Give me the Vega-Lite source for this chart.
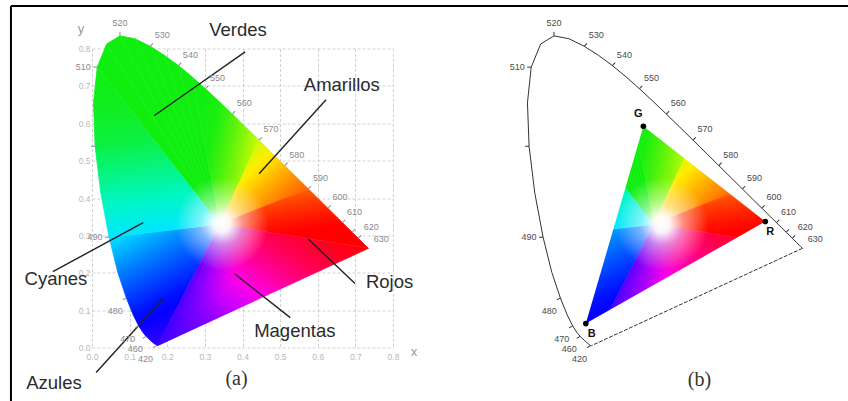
{
"$schema":"https://vega.github.io/schema/vega-lite/v6.json",
"padding":{"left":9,"top":4.5,"right":0,"bottom":0},
"background":"white",
"spacing":133,
"bounds":"flush",
"config":{"view":{"stroke":null},"text":{"font":"Liberation Sans"},"axis":{"labelFont":"Liberation Sans"}},
"datasets":{
"wedges":[
{"w":14,"o":0,"x":0.34,"y":0.33,"a":124.9},{"w":14,"o":1,"x":0.0139,"y":0.7502,"a":124.9},{"w":14,"o":2,"x":0.0389,"y":0.812,"a":124.9},
{"w":15,"o":0,"x":0.34,"y":0.33,"a":119.9},{"w":15,"o":1,"x":0.0389,"y":0.812,"a":119.9},{"w":15,"o":2,"x":0.0743,"y":0.8338,"a":119.9},
{"w":16,"o":0,"x":0.34,"y":0.33,"a":116.2},{"w":16,"o":1,"x":0.0743,"y":0.8338,"a":116.2},{"w":16,"o":2,"x":0.1142,"y":0.8262,"a":116.2},
{"w":17,"o":0,"x":0.34,"y":0.33,"a":112.9},{"w":17,"o":1,"x":0.1142,"y":0.8262,"a":112.9},{"w":17,"o":2,"x":0.1547,"y":0.8059,"a":112.9},
{"w":18,"o":0,"x":0.34,"y":0.33,"a":109.7},{"w":18,"o":1,"x":0.1547,"y":0.8059,"a":109.7},{"w":18,"o":2,"x":0.1929,"y":0.7816,"a":109.7},
{"w":19,"o":0,"x":0.34,"y":0.33,"a":106.3},{"w":19,"o":1,"x":0.1929,"y":0.7816,"a":106.3},{"w":19,"o":2,"x":0.2296,"y":0.7543,"a":106.3},
{"w":20,"o":0,"x":0.34,"y":0.33,"a":102.7},{"w":20,"o":1,"x":0.2296,"y":0.7543,"a":102.7},{"w":20,"o":2,"x":0.2658,"y":0.7243,"a":102.7}
],
"sect":[
{"s":"S12","o":0,"x":0.34,"y":0.33},{"s":"S12","o":1,"x":0.1741,"y":0.005},{"s":"S12","o":2,"x":0.1644,"y":0.0109},{"s":"S12","o":3,"x":0.1566,"y":0.0177},{"s":"S12","o":4,"x":0.144,"y":0.0297},{"s":"S12","o":5,"x":0.1355,"y":0.0399},{"s":"S12","o":6,"x":0.1241,"y":0.0578},{"s":"S12","o":7,"x":0.1096,"y":0.0868},{"s":"S12","o":8,"x":0.0913,"y":0.1327},{"s":"S12","o":9,"x":0.0687,"y":0.2007},{"s":"S12","o":10,"x":0.0454,"y":0.295},
{"s":"S3","o":0,"x":0.34,"y":0.33},{"s":"S3","o":1,"x":0.0454,"y":0.295},{"s":"S3","o":2,"x":0.0235,"y":0.4127},{"s":"S3","o":3,"x":0.0082,"y":0.5384},{"s":"S3","o":4,"x":0.0039,"y":0.6548},{"s":"S3","o":5,"x":0.0139,"y":0.7502},
{"s":"S5","o":0,"x":0.34,"y":0.33},{"s":"S5","o":1,"x":0.2658,"y":0.7243},{"s":"S5","o":2,"x":0.3016,"y":0.6923},{"s":"S5","o":3,"x":0.3373,"y":0.6589},{"s":"S5","o":4,"x":0.3731,"y":0.6245},{"s":"S5","o":5,"x":0.4087,"y":0.5896},{"s":"S5","o":6,"x":0.4441,"y":0.5547},
{"s":"S6","o":0,"x":0.34,"y":0.33},{"s":"S6","o":1,"x":0.4441,"y":0.5547},{"s":"S6","o":2,"x":0.4788,"y":0.5202},{"s":"S6","o":3,"x":0.5125,"y":0.4866},{"s":"S6","o":4,"x":0.5448,"y":0.4544},{"s":"S6","o":5,"x":0.5752,"y":0.4242},
{"s":"S7","o":0,"x":0.34,"y":0.33},{"s":"S7","o":1,"x":0.5752,"y":0.4242},{"s":"S7","o":2,"x":0.6029,"y":0.3965},{"s":"S7","o":3,"x":0.627,"y":0.3725},{"s":"S7","o":4,"x":0.6482,"y":0.3514},{"s":"S7","o":5,"x":0.6658,"y":0.334},{"s":"S7","o":6,"x":0.6801,"y":0.3197},{"s":"S7","o":7,"x":0.6915,"y":0.3083},{"s":"S7","o":8,"x":0.7079,"y":0.292},{"s":"S7","o":9,"x":0.719,"y":0.2809},{"s":"S7","o":10,"x":0.726,"y":0.274},{"s":"S7","o":11,"x":0.73,"y":0.27},{"s":"S7","o":12,"x":0.7334,"y":0.2666},{"s":"S7","o":13,"x":0.7347,"y":0.2653},
{"s":"P","o":0,"x":0.34,"y":0.33},{"s":"P","o":1,"x":0.7347,"y":0.2653},{"s":"P","o":2,"x":0.1741,"y":0.005}
],
"locus":[
{"wl":380,"x":0.1741,"y":0.005},{"wl":420,"x":0.1714,"y":0.0051},{"wl":440,"x":0.1644,"y":0.0109},{"wl":450,"x":0.1566,"y":0.0177},
{"wl":460,"x":0.144,"y":0.0297},{"wl":465,"x":0.1355,"y":0.0399},{"wl":470,"x":0.1241,"y":0.0578},{"wl":475,"x":0.1096,"y":0.0868},
{"wl":480,"x":0.0913,"y":0.1327},{"wl":485,"x":0.0687,"y":0.2007},{"wl":490,"x":0.0454,"y":0.295},{"wl":495,"x":0.0235,"y":0.4127},
{"wl":500,"x":0.0082,"y":0.5384},{"wl":505,"x":0.0039,"y":0.6548},{"wl":510,"x":0.0139,"y":0.7502},{"wl":515,"x":0.0389,"y":0.812},
{"wl":520,"x":0.0743,"y":0.8338},{"wl":525,"x":0.1142,"y":0.8262},{"wl":530,"x":0.1547,"y":0.8059},{"wl":535,"x":0.1929,"y":0.7816},
{"wl":540,"x":0.2296,"y":0.7543},{"wl":545,"x":0.2658,"y":0.7243},{"wl":550,"x":0.3016,"y":0.6923},{"wl":555,"x":0.3373,"y":0.6589},
{"wl":560,"x":0.3731,"y":0.6245},{"wl":565,"x":0.4087,"y":0.5896},{"wl":570,"x":0.4441,"y":0.5547},{"wl":575,"x":0.4788,"y":0.5202},
{"wl":580,"x":0.5125,"y":0.4866},{"wl":585,"x":0.5448,"y":0.4544},{"wl":590,"x":0.5752,"y":0.4242},{"wl":595,"x":0.6029,"y":0.3965},
{"wl":600,"x":0.627,"y":0.3725},{"wl":605,"x":0.6482,"y":0.3514},{"wl":610,"x":0.6658,"y":0.334},{"wl":615,"x":0.6801,"y":0.3197},
{"wl":620,"x":0.6915,"y":0.3083},{"wl":630,"x":0.7079,"y":0.292},{"wl":640,"x":0.719,"y":0.2809},{"wl":650,"x":0.726,"y":0.274},
{"wl":660,"x":0.73,"y":0.27},{"wl":680,"x":0.7334,"y":0.2666},{"wl":700,"x":0.7347,"y":0.2653}
],
"nl":[
{"x":0.165,"y":0.62,"x2":0.407,"y2":0.791},
{"x":0.444,"y":0.465,"x2":0.622,"y2":0.663},
{"x":-0.104,"y":0.203,"x2":0.136,"y2":0.334},
{"x":0.011,"y":-0.067,"x2":0.189,"y2":0.131},
{"x":0.574,"y":0.291,"x2":0.699,"y2":0.171},
{"x":0.378,"y":0.198,"x2":0.527,"y2":0.08}
],
"notes":[
{"t":"Verdes","x":0.388,"y":0.85},
{"t":"Amarillos","x":0.664,"y":0.702},
{"t":"Cyanes","x":-0.096,"y":0.183},
{"t":"Azules","x":-0.101,"y":-0.094},
{"t":"Rojos","x":0.791,"y":0.176},
{"t":"Magentas","x":0.539,"y":0.045}
],
"frame":[
{"x":-0.2154,"y":-0.17,"x2":-0.2154,"y2":0.9137},
{"x":-0.2154,"y":0.9137,"x2":2.012,"y2":0.9137}
],
"mask":[
{"o":0,"x":-0.03,"y":-0.03},{"o":1,"x":0.78,"y":-0.03},{"o":2,"x":0.78,"y":0.86},{"o":3,"x":-0.03,"y":0.86},{"o":4,"x":-0.03,"y":-0.03},
{"o":5,"x":0.159,"y":0.064},{"o":6,"x":0.312,"y":0.592},{"o":7,"x":0.636,"y":0.337},{"o":8,"x":0.159,"y":0.064}
],
"prim":[{"n":"R","x":0.636,"y":0.337},{"n":"G","x":0.312,"y":0.592},{"n":"B","x":0.159,"y":0.064}]
},
"hconcat":[
{
"width":301,"height":299,
"encoding":{
"x":{"field":"x","type":"quantitative","scale":{"domain":[0,0.8],"nice":false,"zero":false},"axis":{"values":[0,0.1,0.2,0.3,0.4,0.5,0.6,0.7,0.8],"format":".1f","title":null,"domain":false,"ticks":false,"tickSize":0,"labelPadding":5,"labelFontSize":8.5,"labelColor":"#b8b8b8","labelFlush":false,"grid":true,"gridDash":[3,2],"gridColor":"#c6c6c6","gridWidth":0.8}},
"y":{"field":"y","type":"quantitative","scale":{"domain":[0,0.8],"nice":false,"zero":false},"axis":{"values":[0,0.1,0.2,0.3,0.4,0.5,0.6,0.7,0.8],"format":".1f","title":null,"domain":false,"ticks":false,"tickSize":0,"labelPadding":2,"labelFontSize":8.5,"labelColor":"#b8b8b8","labelFlush":false,"grid":true,"gridDash":[3,2],"gridColor":"#c6c6c6","gridWidth":0.8}}
},
"layer":[
{"data":{"name":"wedges"},"mark":{"type":"line","filled":true,"strokeWidth":0.8},
 "encoding":{"detail":{"field":"w"},"order":{"field":"o","type":"quantitative"},
 "color":{"field":"a","type":"quantitative","legend":null,"scale":{"domain":[0,58,92,125,182,230,295,352,360],"range":["#ff0000","#ffff00","#10ee10","#10ee10","#00ffff","#0000ff","#ff00ff","#ff0000","#ff0000"],"interpolate":"rgb"}},
 "stroke":{"field":"a","type":"quantitative","legend":null,"scale":{"domain":[0,58,92,125,182,230,295,352,360],"range":["#ff0000","#ffff00","#10ee10","#10ee10","#00ffff","#0000ff","#ff00ff","#ff0000","#ff0000"],"interpolate":"rgb"}}}},
{"data":{"name":"sect"},"transform":[{"filter":{"field":"s","equal":"S12"}}],"mark":{"type":"line","filled":true,"strokeWidth":0.8,
 "fill":{"gradient":"linear","x1":0.4369,"y1":1,"x2":0,"y2":0.1077,"stops":[{"offset":0,"color":"#3300ff"},{"offset":0.114,"color":"#1b00ff"},{"offset":0.222,"color":"#0600ff"},{"offset":0.325,"color":"#0012ff"},{"offset":0.48,"color":"#003eff"},{"offset":0.703,"color":"#0082ff"},{"offset":1,"color":"#00e6ff"}]},
 "stroke":{"gradient":"linear","x1":0.4369,"y1":1,"x2":0,"y2":0.1077,"stops":[{"offset":0,"color":"#3300ff"},{"offset":0.114,"color":"#1b00ff"},{"offset":0.222,"color":"#0600ff"},{"offset":0.325,"color":"#0012ff"},{"offset":0.48,"color":"#003eff"},{"offset":0.703,"color":"#0082ff"},{"offset":1,"color":"#00e6ff"}]}},
 "encoding":{"order":{"field":"o","type":"quantitative"}}},
{"data":{"name":"sect"},"transform":[{"filter":{"field":"s","equal":"S3"}}],"mark":{"type":"line","filled":true,"strokeWidth":0.8,
 "fill":{"gradient":"linear","x1":0.1235,"y1":1,"x2":0.0298,"y2":0,"stops":[{"offset":0,"color":"#00e6ff"},{"offset":0.18,"color":"#00f6c8"},{"offset":0.35,"color":"#05f588"},{"offset":0.55,"color":"#0cf040"},{"offset":0.75,"color":"#10ee20"},{"offset":1,"color":"#10ee10"}]},
 "stroke":{"gradient":"linear","x1":0.1235,"y1":1,"x2":0.0298,"y2":0,"stops":[{"offset":0,"color":"#00e6ff"},{"offset":0.18,"color":"#00f6c8"},{"offset":0.35,"color":"#05f588"},{"offset":0.55,"color":"#0cf040"},{"offset":0.75,"color":"#10ee20"},{"offset":1,"color":"#10ee10"}]}},
 "encoding":{"order":{"field":"o","type":"quantitative"}}},
{"data":{"name":"sect"},"transform":[{"filter":{"field":"s","equal":"S5"}}],"mark":{"type":"line","filled":true,"strokeWidth":0.8,
 "fill":{"gradient":"linear","x1":0,"y1":0,"x2":1,"y2":0.4301,"stops":[{"offset":0,"color":"#10ee10"},{"offset":0.199,"color":"#10ee10"},{"offset":0.399,"color":"#1aef0f"},{"offset":0.6,"color":"#4bf20c"},{"offset":0.8,"color":"#86f608"},{"offset":1,"color":"#cdfb03"}]},
 "stroke":{"gradient":"linear","x1":0,"y1":0,"x2":1,"y2":0.4301,"stops":[{"offset":0,"color":"#10ee10"},{"offset":0.199,"color":"#10ee10"},{"offset":0.399,"color":"#1aef0f"},{"offset":0.6,"color":"#4bf20c"},{"offset":0.8,"color":"#86f608"},{"offset":1,"color":"#cdfb03"}]}},
 "encoding":{"order":{"field":"o","type":"quantitative"}}},
{"data":{"name":"sect"},"transform":[{"filter":{"field":"s","equal":"S6"}}],"mark":{"type":"line","filled":true,"strokeWidth":0.8,
 "fill":{"gradient":"linear","x1":0.4426,"y1":0,"x2":1,"y2":0.5807,"stops":[{"offset":0,"color":"#cdfb03"},{"offset":0.265,"color":"#ffed00"},{"offset":0.522,"color":"#ffb900"},{"offset":0.768,"color":"#ff8900"},{"offset":1,"color":"#ff6000"}]},
 "stroke":{"gradient":"linear","x1":0.4426,"y1":0,"x2":1,"y2":0.5807,"stops":[{"offset":0,"color":"#cdfb03"},{"offset":0.265,"color":"#ffed00"},{"offset":0.522,"color":"#ffb900"},{"offset":0.768,"color":"#ff8900"},{"offset":1,"color":"#ff6000"}]}},
 "encoding":{"order":{"field":"o","type":"quantitative"}}},
{"data":{"name":"sect"},"transform":[{"filter":{"field":"s","equal":"S7"}}],"mark":{"type":"line","filled":true,"strokeWidth":0.8,
 "fill":{"gradient":"linear","x1":0.5959,"y1":0,"x2":0.8905,"y2":0.7294,"stops":[{"offset":0,"color":"#ff6000"},{"offset":0.239,"color":"#ff3e00"},{"offset":0.446,"color":"#ff2500"},{"offset":0.628,"color":"#ff1100"},{"offset":0.778,"color":"#ff0300"},{"offset":1,"color":"#ff0000"}]},
 "stroke":{"gradient":"linear","x1":0.5959,"y1":0,"x2":0.8905,"y2":0.7294,"stops":[{"offset":0,"color":"#ff6000"},{"offset":0.239,"color":"#ff3e00"},{"offset":0.446,"color":"#ff2500"},{"offset":0.628,"color":"#ff1100"},{"offset":0.778,"color":"#ff0300"},{"offset":1,"color":"#ff0000"}]}},
 "encoding":{"order":{"field":"o","type":"quantitative"}}},
{"data":{"name":"sect"},"transform":[{"filter":{"field":"s","equal":"P"}}],"mark":{"type":"line","filled":true,"strokeWidth":0.8,
 "fill":{"gradient":"linear","x1":1,"y1":0.2,"x2":0,"y2":1,"stops":[{"offset":0,"color":"#ff0008"},{"offset":0.125,"color":"#ff0027"},{"offset":0.25,"color":"#ff0055"},{"offset":0.375,"color":"#ff0095"},{"offset":0.5,"color":"#ff00e7"},{"offset":0.625,"color":"#c800ff"},{"offset":0.75,"color":"#8700ff"},{"offset":0.875,"color":"#5600ff"},{"offset":1,"color":"#3300ff"}]},
 "stroke":{"gradient":"linear","x1":1,"y1":0.2,"x2":0,"y2":1,"stops":[{"offset":0,"color":"#ff0008"},{"offset":0.125,"color":"#ff0027"},{"offset":0.25,"color":"#ff0055"},{"offset":0.375,"color":"#ff0095"},{"offset":0.5,"color":"#ff00e7"},{"offset":0.625,"color":"#c800ff"},{"offset":0.75,"color":"#8700ff"},{"offset":0.875,"color":"#5600ff"},{"offset":1,"color":"#3300ff"}]}},
 "encoding":{"order":{"field":"o","type":"quantitative"}}},
{"data":{"name":"sect"},"transform":[{"filter":{"field":"s","equal":"P"}}],"mark":{"type":"line","filled":true,"strokeWidth":0,
 "fill":{"gradient":"linear","x1":0.2985,"y1":-0.0086,"x2":1,"y2":0.199,"stops":[{"offset":0,"color":"rgba(60,0,255,0.8)"},{"offset":0.12,"color":"rgba(100,0,255,0.42)"},{"offset":0.25,"color":"rgba(140,0,255,0)"},{"offset":1,"color":"rgba(140,0,255,0)"}]}},
 "encoding":{"order":{"field":"o","type":"quantitative"}}},
{"data":{"name":"locus"},"mark":{"type":"line","filled":true,"strokeWidth":0,
 "fill":{"gradient":"radial","x1":0.471,"y1":0.608,"r1":0,"x2":0.471,"y2":0.608,"r2":0.15,"stops":[{"offset":0,"color":"rgba(255,255,255,1)"},{"offset":0.18,"color":"rgba(255,255,255,0.95)"},{"offset":0.45,"color":"rgba(255,255,255,0.5)"},{"offset":1,"color":"rgba(255,255,255,0)"}]}},
 "encoding":{"order":{"field":"wl","type":"quantitative"}}},
{"data":{"name":"nl"},"mark":{"type":"rule","color":"#222222","strokeWidth":1.4},"encoding":{"x2":{"field":"x2"},"y2":{"field":"y2"}}},
{"data":{"name":"notes"},"mark":{"type":"text","fontSize":18.5,"color":"#2b2b2b"},"encoding":{"text":{"field":"t"}}},
{"data":{"name":"locus"},"transform":[{"filter":{"field":"wl","oneOf":[520]}}],"mark":{"type":"text","dy":-13,"fontSize":9,"color":"#8a8a8a"},"encoding":{"text":{"field":"wl","type":"quantitative"}}},
{"data":{"name":"locus"},"transform":[{"filter":{"field":"wl","oneOf":[530,540,550,560,570,580,590,600,610]}}],"mark":{"type":"text","dx":12,"dy":-11,"fontSize":9,"color":"#8a8a8a"},"encoding":{"text":{"field":"wl","type":"quantitative"}}},
{"data":{"name":"locus"},"transform":[{"filter":{"field":"wl","oneOf":[620]}}],"mark":{"type":"text","dx":19,"dy":-5,"fontSize":9,"color":"#8a8a8a"},"encoding":{"text":{"field":"wl","type":"quantitative"}}},
{"data":{"name":"locus"},"transform":[{"filter":{"field":"wl","oneOf":[630]}}],"mark":{"type":"text","dx":23,"dy":1,"fontSize":9,"color":"#8a8a8a"},"encoding":{"text":{"field":"wl","type":"quantitative"}}},
{"data":{"name":"locus"},"transform":[{"filter":{"field":"wl","oneOf":[510,490]}}],"mark":{"type":"text","dx":-14,"dy":0,"fontSize":9,"color":"#8a8a8a"},"encoding":{"text":{"field":"wl","type":"quantitative"}}},
{"data":{"name":"locus"},"transform":[{"filter":{"field":"wl","oneOf":[480,470,460,420]}}],"mark":{"type":"text","dx":-11,"dy":13,"fontSize":9,"color":"#8a8a8a"},"encoding":{"text":{"field":"wl","type":"quantitative"}}},
{"data":{"name":"locus"},"transform":[{"filter":{"field":"wl","oneOf":[520]}}],"mark":{"type":"point","shape":"M0,0L1,0","size":64,"angle":-90,"filled":false,"color":"#8a8a8a","strokeWidth":1,"opacity":1}},
{"data":{"name":"locus"},"transform":[{"filter":{"field":"wl","oneOf":[530,540,550,560,570,580,590,600,610,620,630]}}],"mark":{"type":"point","shape":"M0,0L1,0","size":64,"angle":-47,"filled":false,"color":"#8a8a8a","strokeWidth":1,"opacity":1}},
{"data":{"name":"locus"},"transform":[{"filter":{"field":"wl","oneOf":[510,500,490]}}],"mark":{"type":"point","shape":"M0,0L1,0","size":64,"angle":180,"filled":false,"color":"#8a8a8a","strokeWidth":1,"opacity":1}},
{"data":{"name":"locus"},"transform":[{"filter":{"field":"wl","oneOf":[480,470,460,420]}}],"mark":{"type":"point","shape":"M0,0L1,0","size":64,"angle":150,"filled":false,"color":"#8a8a8a","strokeWidth":1,"opacity":1}},
{"data":{"values":[{"t":"x","x":0.856,"y":-0.013},{"t":"y","x":-0.029,"y":0.853}]},"mark":{"type":"text","fontSize":13,"color":"#999999"},"encoding":{"text":{"field":"t"}}},
{"data":{"values":[{"t":"(a)","x":0.384,"y":-0.083}]},"mark":{"type":"text","font":"Liberation Serif","fontSize":20,"color":"#333333"},"encoding":{"text":{"field":"t"}}},
{"data":{"name":"frame"},"mark":{"type":"rule","color":"#000000","strokeWidth":2},"encoding":{"x2":{"field":"x2"},"y2":{"field":"y2"}}}
]
},
{
"width":301,"height":299,
"encoding":{
"x":{"field":"x","type":"quantitative","scale":{"domain":[0,0.8],"nice":false,"zero":false},"axis":null},
"y":{"field":"y","type":"quantitative","scale":{"domain":[0,0.8],"nice":false,"zero":false},"axis":null}
},
"layer":[
{"data":{"name":"wedges"},"mark":{"type":"line","filled":true,"strokeWidth":0.8},
 "encoding":{"detail":{"field":"w"},"order":{"field":"o","type":"quantitative"},
 "color":{"field":"a","type":"quantitative","legend":null,"scale":{"domain":[0,58,92,125,182,230,295,352,360],"range":["#ff0000","#ffff00","#10ee10","#10ee10","#00ffff","#0000ff","#ff00ff","#ff0000","#ff0000"],"interpolate":"rgb"}},
 "stroke":{"field":"a","type":"quantitative","legend":null,"scale":{"domain":[0,58,92,125,182,230,295,352,360],"range":["#ff0000","#ffff00","#10ee10","#10ee10","#00ffff","#0000ff","#ff00ff","#ff0000","#ff0000"],"interpolate":"rgb"}}}},
{"data":{"name":"sect"},"transform":[{"filter":{"field":"s","equal":"S12"}}],"mark":{"type":"line","filled":true,"strokeWidth":0.8,
 "fill":{"gradient":"linear","x1":0.4369,"y1":1,"x2":0,"y2":0.1077,"stops":[{"offset":0,"color":"#3300ff"},{"offset":0.114,"color":"#1b00ff"},{"offset":0.222,"color":"#0600ff"},{"offset":0.325,"color":"#0012ff"},{"offset":0.48,"color":"#003eff"},{"offset":0.703,"color":"#0082ff"},{"offset":1,"color":"#00e6ff"}]},
 "stroke":{"gradient":"linear","x1":0.4369,"y1":1,"x2":0,"y2":0.1077,"stops":[{"offset":0,"color":"#3300ff"},{"offset":0.114,"color":"#1b00ff"},{"offset":0.222,"color":"#0600ff"},{"offset":0.325,"color":"#0012ff"},{"offset":0.48,"color":"#003eff"},{"offset":0.703,"color":"#0082ff"},{"offset":1,"color":"#00e6ff"}]}},
 "encoding":{"order":{"field":"o","type":"quantitative"}}},
{"data":{"name":"sect"},"transform":[{"filter":{"field":"s","equal":"S3"}}],"mark":{"type":"line","filled":true,"strokeWidth":0.8,
 "fill":{"gradient":"linear","x1":0.1235,"y1":1,"x2":0.0298,"y2":0,"stops":[{"offset":0,"color":"#00e6ff"},{"offset":0.18,"color":"#00f6c8"},{"offset":0.35,"color":"#05f588"},{"offset":0.55,"color":"#0cf040"},{"offset":0.75,"color":"#10ee20"},{"offset":1,"color":"#10ee10"}]},
 "stroke":{"gradient":"linear","x1":0.1235,"y1":1,"x2":0.0298,"y2":0,"stops":[{"offset":0,"color":"#00e6ff"},{"offset":0.18,"color":"#00f6c8"},{"offset":0.35,"color":"#05f588"},{"offset":0.55,"color":"#0cf040"},{"offset":0.75,"color":"#10ee20"},{"offset":1,"color":"#10ee10"}]}},
 "encoding":{"order":{"field":"o","type":"quantitative"}}},
{"data":{"name":"sect"},"transform":[{"filter":{"field":"s","equal":"S5"}}],"mark":{"type":"line","filled":true,"strokeWidth":0.8,
 "fill":{"gradient":"linear","x1":0,"y1":0,"x2":1,"y2":0.4301,"stops":[{"offset":0,"color":"#10ee10"},{"offset":0.199,"color":"#10ee10"},{"offset":0.399,"color":"#1aef0f"},{"offset":0.6,"color":"#4bf20c"},{"offset":0.8,"color":"#86f608"},{"offset":1,"color":"#cdfb03"}]},
 "stroke":{"gradient":"linear","x1":0,"y1":0,"x2":1,"y2":0.4301,"stops":[{"offset":0,"color":"#10ee10"},{"offset":0.199,"color":"#10ee10"},{"offset":0.399,"color":"#1aef0f"},{"offset":0.6,"color":"#4bf20c"},{"offset":0.8,"color":"#86f608"},{"offset":1,"color":"#cdfb03"}]}},
 "encoding":{"order":{"field":"o","type":"quantitative"}}},
{"data":{"name":"sect"},"transform":[{"filter":{"field":"s","equal":"S6"}}],"mark":{"type":"line","filled":true,"strokeWidth":0.8,
 "fill":{"gradient":"linear","x1":0.4426,"y1":0,"x2":1,"y2":0.5807,"stops":[{"offset":0,"color":"#cdfb03"},{"offset":0.265,"color":"#ffed00"},{"offset":0.522,"color":"#ffb900"},{"offset":0.768,"color":"#ff8900"},{"offset":1,"color":"#ff6000"}]},
 "stroke":{"gradient":"linear","x1":0.4426,"y1":0,"x2":1,"y2":0.5807,"stops":[{"offset":0,"color":"#cdfb03"},{"offset":0.265,"color":"#ffed00"},{"offset":0.522,"color":"#ffb900"},{"offset":0.768,"color":"#ff8900"},{"offset":1,"color":"#ff6000"}]}},
 "encoding":{"order":{"field":"o","type":"quantitative"}}},
{"data":{"name":"sect"},"transform":[{"filter":{"field":"s","equal":"S7"}}],"mark":{"type":"line","filled":true,"strokeWidth":0.8,
 "fill":{"gradient":"linear","x1":0.5959,"y1":0,"x2":0.8905,"y2":0.7294,"stops":[{"offset":0,"color":"#ff6000"},{"offset":0.239,"color":"#ff3e00"},{"offset":0.446,"color":"#ff2500"},{"offset":0.628,"color":"#ff1100"},{"offset":0.778,"color":"#ff0300"},{"offset":1,"color":"#ff0000"}]},
 "stroke":{"gradient":"linear","x1":0.5959,"y1":0,"x2":0.8905,"y2":0.7294,"stops":[{"offset":0,"color":"#ff6000"},{"offset":0.239,"color":"#ff3e00"},{"offset":0.446,"color":"#ff2500"},{"offset":0.628,"color":"#ff1100"},{"offset":0.778,"color":"#ff0300"},{"offset":1,"color":"#ff0000"}]}},
 "encoding":{"order":{"field":"o","type":"quantitative"}}},
{"data":{"name":"sect"},"transform":[{"filter":{"field":"s","equal":"P"}}],"mark":{"type":"line","filled":true,"strokeWidth":0.8,
 "fill":{"gradient":"linear","x1":1,"y1":0.2,"x2":0,"y2":1,"stops":[{"offset":0,"color":"#ff0008"},{"offset":0.125,"color":"#ff0027"},{"offset":0.25,"color":"#ff0055"},{"offset":0.375,"color":"#ff0095"},{"offset":0.5,"color":"#ff00e7"},{"offset":0.625,"color":"#c800ff"},{"offset":0.75,"color":"#8700ff"},{"offset":0.875,"color":"#5600ff"},{"offset":1,"color":"#3300ff"}]},
 "stroke":{"gradient":"linear","x1":1,"y1":0.2,"x2":0,"y2":1,"stops":[{"offset":0,"color":"#ff0008"},{"offset":0.125,"color":"#ff0027"},{"offset":0.25,"color":"#ff0055"},{"offset":0.375,"color":"#ff0095"},{"offset":0.5,"color":"#ff00e7"},{"offset":0.625,"color":"#c800ff"},{"offset":0.75,"color":"#8700ff"},{"offset":0.875,"color":"#5600ff"},{"offset":1,"color":"#3300ff"}]}},
 "encoding":{"order":{"field":"o","type":"quantitative"}}},
{"data":{"name":"sect"},"transform":[{"filter":{"field":"s","equal":"P"}}],"mark":{"type":"line","filled":true,"strokeWidth":0,
 "fill":{"gradient":"linear","x1":0.2985,"y1":-0.0086,"x2":1,"y2":0.199,"stops":[{"offset":0,"color":"rgba(60,0,255,0.8)"},{"offset":0.12,"color":"rgba(100,0,255,0.42)"},{"offset":0.25,"color":"rgba(140,0,255,0)"},{"offset":1,"color":"rgba(140,0,255,0)"}]}},
 "encoding":{"order":{"field":"o","type":"quantitative"}}},
{"data":{"name":"locus"},"mark":{"type":"line","filled":true,"strokeWidth":0,
 "fill":{"gradient":"radial","x1":0.49,"y1":0.608,"r1":0,"x2":0.49,"y2":0.608,"r2":0.15,"stops":[{"offset":0,"color":"rgba(255,255,255,1)"},{"offset":0.18,"color":"rgba(255,255,255,0.95)"},{"offset":0.45,"color":"rgba(255,255,255,0.5)"},{"offset":1,"color":"rgba(255,255,255,0)"}]}},
 "encoding":{"order":{"field":"wl","type":"quantitative"}}},
{"data":{"name":"mask"},"mark":{"type":"line","filled":true,"color":"#ffffff","strokeWidth":0},"encoding":{"order":{"field":"o","type":"quantitative"}}},
{"data":{"name":"locus"},"mark":{"type":"line","color":"#333333","strokeWidth":1},"encoding":{"order":{"field":"wl","type":"quantitative"}}},
{"data":{"values":[{"x":0.7347,"y":0.2653,"x2":0.1741,"y2":0.005}]},"mark":{"type":"rule","color":"#333333","strokeWidth":1,"strokeDash":[4,1.5]},"encoding":{"x2":{"field":"x2"},"y2":{"field":"y2"}}},
{"data":{"name":"locus"},"transform":[{"filter":{"field":"wl","oneOf":[520]}}],"mark":{"type":"text","dy":-13,"fontSize":9,"color":"#4a4a4a"},"encoding":{"text":{"field":"wl","type":"quantitative"}}},
{"data":{"name":"locus"},"transform":[{"filter":{"field":"wl","oneOf":[530,540,550,560,570,580,590,600,610]}}],"mark":{"type":"text","dx":12,"dy":-11,"fontSize":9,"color":"#4a4a4a"},"encoding":{"text":{"field":"wl","type":"quantitative"}}},
{"data":{"name":"locus"},"transform":[{"filter":{"field":"wl","oneOf":[620]}}],"mark":{"type":"text","dx":19,"dy":-5,"fontSize":9,"color":"#4a4a4a"},"encoding":{"text":{"field":"wl","type":"quantitative"}}},
{"data":{"name":"locus"},"transform":[{"filter":{"field":"wl","oneOf":[630]}}],"mark":{"type":"text","dx":23,"dy":1,"fontSize":9,"color":"#4a4a4a"},"encoding":{"text":{"field":"wl","type":"quantitative"}}},
{"data":{"name":"locus"},"transform":[{"filter":{"field":"wl","oneOf":[510,490]}}],"mark":{"type":"text","dx":-14,"dy":0,"fontSize":9,"color":"#4a4a4a"},"encoding":{"text":{"field":"wl","type":"quantitative"}}},
{"data":{"name":"locus"},"transform":[{"filter":{"field":"wl","oneOf":[480,470,460,420]}}],"mark":{"type":"text","dx":-11,"dy":13,"fontSize":9,"color":"#4a4a4a"},"encoding":{"text":{"field":"wl","type":"quantitative"}}},
{"data":{"name":"locus"},"transform":[{"filter":{"field":"wl","oneOf":[520]}}],"mark":{"type":"point","shape":"M0,0L1,0","size":64,"angle":-90,"filled":false,"color":"#333333","strokeWidth":1,"opacity":1}},
{"data":{"name":"locus"},"transform":[{"filter":{"field":"wl","oneOf":[530,540,550,560,570,580,590,600,610,620,630]}}],"mark":{"type":"point","shape":"M0,0L1,0","size":64,"angle":-47,"filled":false,"color":"#333333","strokeWidth":1,"opacity":1}},
{"data":{"name":"locus"},"transform":[{"filter":{"field":"wl","oneOf":[510,500,490]}}],"mark":{"type":"point","shape":"M0,0L1,0","size":64,"angle":180,"filled":false,"color":"#333333","strokeWidth":1,"opacity":1}},
{"data":{"name":"locus"},"transform":[{"filter":{"field":"wl","oneOf":[480,470,460,420]}}],"mark":{"type":"point","shape":"M0,0L1,0","size":64,"angle":150,"filled":false,"color":"#333333","strokeWidth":1,"opacity":1}},
{"data":{"name":"prim"},"mark":{"type":"point","filled":true,"color":"#000000","size":32,"opacity":1}},
{"data":{"name":"prim"},"transform":[{"filter":{"field":"n","equal":"G"}}],"mark":{"type":"text","dx":-5,"dy":-12,"fontSize":11,"fontWeight":"bold","color":"#111111"},"encoding":{"text":{"field":"n"}}},
{"data":{"name":"prim"},"transform":[{"filter":{"field":"n","equal":"R"}}],"mark":{"type":"text","dx":5,"dy":10,"fontSize":11,"fontWeight":"bold","color":"#111111"},"encoding":{"text":{"field":"n"}}},
{"data":{"name":"prim"},"transform":[{"filter":{"field":"n","equal":"B"}}],"mark":{"type":"text","dx":6,"dy":10,"fontSize":11,"fontWeight":"bold","color":"#111111"},"encoding":{"text":{"field":"n"}}},
{"data":{"values":[{"t":"(b)","x":0.461,"y":-0.088}]},"mark":{"type":"text","font":"Liberation Serif","fontSize":20,"color":"#333333"},"encoding":{"text":{"field":"t"}}}
]
}
]
}
